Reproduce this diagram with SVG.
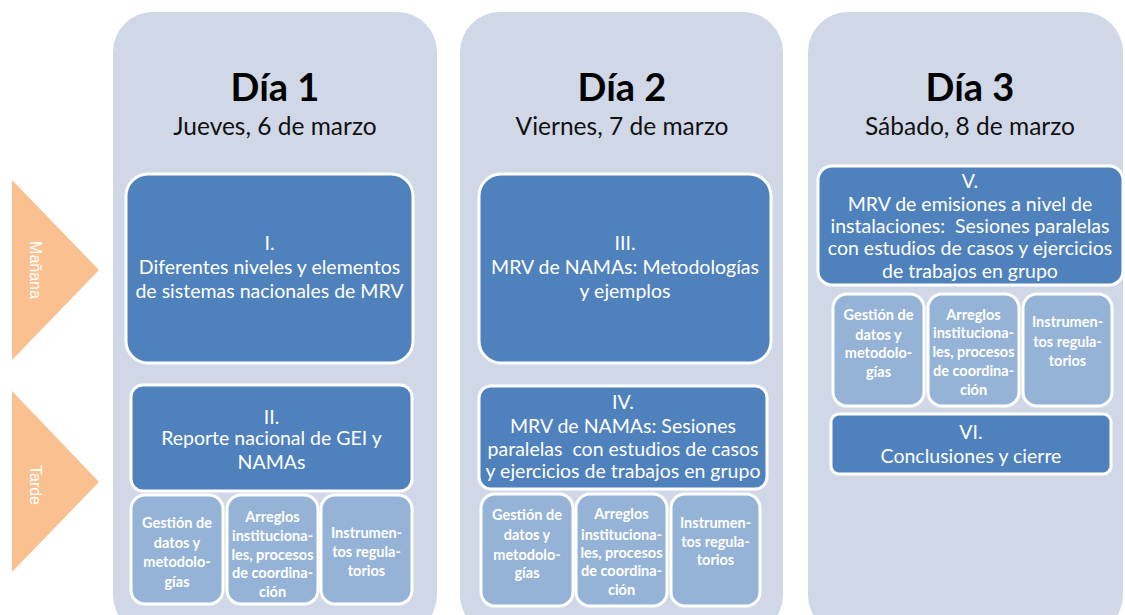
<svg xmlns="http://www.w3.org/2000/svg" width="1125" height="615" viewBox="0 0 1125 615">
<style>
.col{fill:#D0D8E8}
.tri{fill:#FAC090}
.dark{fill:#4F81BD;stroke:#fff;stroke-width:3}
.light{fill:#95B3D7;stroke:#fff;stroke-width:3}
.h1{font-family:Lato,"Liberation Sans",sans-serif;font-weight:bold;font-size:38px;fill:#000;text-anchor:middle}
.h2{font-family:Lato,"Liberation Sans",sans-serif;font-size:24.5px;fill:#111;text-anchor:middle}
.t{font-family:Lato,"Liberation Sans",sans-serif;font-size:19.5px;fill:#fff;text-anchor:middle}
.s{font-family:Lato,"Liberation Sans",sans-serif;font-weight:bold;font-size:14.5px;fill:#fff;text-anchor:middle}
.side{font-family:"Liberation Sans",Arial,sans-serif;font-size:16px;fill:#fff;text-anchor:middle}
</style>
<rect width="1125" height="615" fill="#fff"/>
<g id="manana">
<polygon class="tri" points="12,180 99,270 12,360"/>
<text class="side" transform="translate(30,270) rotate(90)">Mañana</text>
</g>
<g id="tarde">
<polygon class="tri" points="12,391 99,482 12,572"/>
<text class="side" transform="translate(30,485) rotate(90)">Tarde</text>
</g>
<g id="dia1">
<rect class="col" x="113" y="12" width="324" height="623" rx="40"/>
<text class="h1" x="275" y="101">Día 1</text>
<text class="h2" x="275" y="135">Jueves, 6 de marzo</text>
</g>
<g id="dia2">
<rect class="col" x="460" y="12" width="323" height="623" rx="40"/>
<text class="h1" x="622" y="101">Día 2</text>
<text class="h2" x="622" y="135">Viernes, 7 de marzo</text>
</g>
<g id="dia3">
<rect class="col" x="808" y="12" width="315" height="623" rx="40"/>
<text class="h1" x="970" y="101">Día 3</text>
<text class="h2" x="970" y="135">Sábado, 8 de marzo</text>
</g>
<g id="s1">
<rect class="dark" x="126" y="174" width="287" height="189" rx="22"/>
<text class="t"><tspan x="269.5" y="250">I.</tspan><tspan x="269.5" y="274">Diferentes niveles y elementos</tspan><tspan x="269.5" y="298">de sistemas nacionales de MRV</tspan></text>
</g>
<g id="s3">
<rect class="dark" x="479" y="174" width="292" height="189" rx="22"/>
<text class="t"><tspan x="625" y="250">III.</tspan><tspan x="625" y="274">MRV de NAMAs: Metodologías</tspan><tspan x="625" y="298">y ejemplos</tspan></text>
</g>
<g id="s2">
<rect class="dark" x="131" y="385" width="281" height="106" rx="12"/>
<text class="t"><tspan x="271.5" y="424">II.</tspan><tspan x="271.5" y="445">Reporte nacional de GEI y</tspan><tspan x="271.5" y="469">NAMAs</tspan></text>
</g>
<g id="s2a">
<rect class="light" x="131" y="495" width="92" height="109" rx="14"/>
<text class="s"><tspan x="177" y="528">Gestión de</tspan><tspan x="177" y="548">datos y</tspan><tspan x="177" y="567">metodolo-</tspan><tspan x="177" y="587">gías</tspan></text>
</g>
<g id="s2b">
<rect class="light" x="227" y="495" width="91" height="109" rx="14"/>
<text class="s"><tspan x="272.5" y="522">Arreglos</tspan><tspan x="272.5" y="541">instituciona-</tspan><tspan x="272.5" y="560">les, procesos</tspan><tspan x="272.5" y="578">de coordina-</tspan><tspan x="272.5" y="597">ción</tspan></text>
</g>
<g id="s2c">
<rect class="light" x="321" y="495" width="91" height="109" rx="14"/>
<text class="s"><tspan x="366.5" y="538">Instrumen-</tspan><tspan x="366.5" y="557">tos regula-</tspan><tspan x="366.5" y="576">torios</tspan></text>
</g>
<g id="s4">
<rect class="dark" x="479" y="386" width="288" height="103" rx="12"/>
<text class="t"><tspan x="623" y="409">IV.</tspan><tspan x="623" y="433">MRV de NAMAs: Sesiones</tspan><tspan x="623" y="456">paralelas&#160; con estudios de casos</tspan><tspan x="623" y="478">y ejercicios de trabajos en grupo</tspan></text>
</g>
<g id="s4a">
<rect class="light" x="481" y="494" width="92" height="112" rx="14"/>
<text class="s"><tspan x="527" y="520">Gestión de</tspan><tspan x="527" y="540">datos y</tspan><tspan x="527" y="560">metodolo-</tspan><tspan x="527" y="578">gías</tspan></text>
</g>
<g id="s4b">
<rect class="light" x="576" y="494" width="91" height="112" rx="14"/>
<text class="s"><tspan x="621.5" y="519">Arreglos</tspan><tspan x="621.5" y="540">instituciona-</tspan><tspan x="621.5" y="558">les, procesos</tspan><tspan x="621.5" y="576">de coordina-</tspan><tspan x="621.5" y="595">ción</tspan></text>
</g>
<g id="s4c">
<rect class="light" x="671" y="494" width="89" height="112" rx="14"/>
<text class="s"><tspan x="715.5" y="528">Instrumen-</tspan><tspan x="715.5" y="547">tos regula-</tspan><tspan x="715.5" y="565">torios</tspan></text>
</g>
<g id="s5">
<rect class="dark" x="818" y="166" width="305" height="119" rx="14"/>
<text class="t"><tspan x="970" y="188">V.</tspan><tspan x="970" y="211">MRV de emisiones a nivel de</tspan><tspan x="970" y="233">instalaciones:&#160; Sesiones paralelas</tspan><tspan x="970" y="255">con estudios de casos y ejercicios</tspan><tspan x="970" y="278">de trabajos en grupo</tspan></text>
</g>
<g id="s5a">
<rect class="light" x="833" y="294" width="91" height="112" rx="14"/>
<text class="s"><tspan x="878.5" y="320">Gestión de</tspan><tspan x="878.5" y="340">datos y</tspan><tspan x="878.5" y="358">metodolo-</tspan><tspan x="878.5" y="377">gías</tspan></text>
</g>
<g id="s5b">
<rect class="light" x="928" y="294" width="91" height="112" rx="14"/>
<text class="s"><tspan x="973.5" y="320">Arreglos</tspan><tspan x="973.5" y="338">instituciona-</tspan><tspan x="973.5" y="357">les, procesos</tspan><tspan x="973.5" y="376">de coordina-</tspan><tspan x="973.5" y="395">ción</tspan></text>
</g>
<g id="s5c">
<rect class="light" x="1023" y="294" width="89" height="112" rx="14"/>
<text class="s"><tspan x="1067.5" y="327">Instrumen-</tspan><tspan x="1067.5" y="347">tos regula-</tspan><tspan x="1067.5" y="366">torios</tspan></text>
</g>
<g id="s6">
<rect class="dark" x="831" y="414" width="280" height="60" rx="8"/>
<text class="t"><tspan x="971" y="439">VI.</tspan><tspan x="971" y="463">Conclusiones y cierre</tspan></text>
</g>
<g id="connectors"></g>
</svg>
